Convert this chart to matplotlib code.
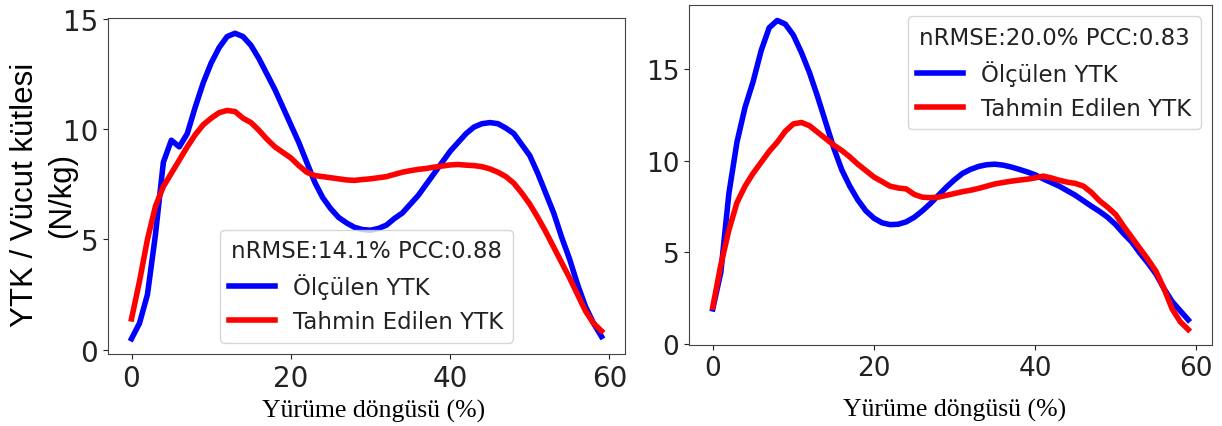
import numpy as np
import matplotlib
matplotlib.use("Agg")
import matplotlib.pyplot as plt

# ---- data ----
x_left = list(range(60))
measured_left = [0.5, 1.2, 2.5, 5.2, 8.5, 9.5, 9.2, 9.8, 11.0, 12.1,
                 13.0, 13.7, 14.2, 14.35, 14.2, 13.8, 13.2, 12.5, 11.8, 11.0,
                 10.2, 9.4, 8.5, 7.6, 6.9, 6.4, 6.0, 5.75, 5.55, 5.45,
                 5.42, 5.5, 5.65, 5.95, 6.2, 6.6, 7.0, 7.5, 8.0, 8.5,
                 9.0, 9.4, 9.8, 10.1, 10.25, 10.3, 10.25, 10.05, 9.8, 9.3,
                 8.8, 8.0, 7.1, 6.2, 5.1, 4.1, 2.95, 1.95, 1.2, 0.6]
predicted_left = [1.4, 3.1, 5.0, 6.5, 7.4, 8.0, 8.6, 9.2, 9.75, 10.2,
                  10.5, 10.75, 10.85, 10.8, 10.5, 10.3, 9.95, 9.55, 9.2, 8.95,
                  8.7, 8.35, 8.05, 7.9, 7.85, 7.8, 7.75, 7.7, 7.68, 7.72,
                  7.75, 7.8, 7.85, 7.95, 8.05, 8.12, 8.18, 8.22, 8.28, 8.33,
                  8.38, 8.4, 8.37, 8.35, 8.3, 8.2, 8.05, 7.85, 7.55, 7.1,
                  6.6, 6.0, 5.35, 4.65, 3.95, 3.25, 2.5, 1.75, 1.2, 0.85]

x_right = list(range(60))
measured_right = [1.9, 3.9, 8.2, 11.0, 12.9, 14.3, 16.0, 17.25, 17.65, 17.45,
                  16.85, 15.9, 14.8, 13.5, 12.1, 10.7, 9.5, 8.6, 7.85, 7.25,
                  6.85, 6.6, 6.5, 6.52, 6.65, 6.9, 7.25, 7.65, 8.1, 8.55,
                  8.95, 9.3, 9.52, 9.68, 9.77, 9.8, 9.75, 9.65, 9.52, 9.38,
                  9.22, 9.0, 8.8, 8.6, 8.35, 8.1, 7.8, 7.5, 7.22, 6.9,
                  6.5, 6.0, 5.55, 4.95, 4.4, 3.8, 3.0, 2.3, 1.8, 1.3]
predicted_right = [2.0, 4.3, 6.2, 7.7, 8.6, 9.3, 9.9, 10.5, 11.0, 11.6,
                   12.0, 12.08, 11.9, 11.55, 11.2, 10.85, 10.55, 10.2, 9.8, 9.45,
                   9.1, 8.85, 8.6, 8.5, 8.45, 8.15, 8.0, 7.97, 8.0, 8.1,
                   8.2, 8.3, 8.38, 8.48, 8.6, 8.72, 8.8, 8.87, 8.93, 8.98,
                   9.05, 9.15, 9.05, 8.92, 8.82, 8.75, 8.6, 8.25, 7.8, 7.45,
                   7.05, 6.4, 5.8, 5.2, 4.6, 3.95, 3.0, 1.9, 1.2, 0.77]

label_measured = "Ölçülen YTK"
label_predicted = "Tahmin Edilen YTK"
title_left = "nRMSE:14.1% PCC:0.88"
title_right = "nRMSE:20.0% PCC:0.83"
xlabel = "Yürüme döngüsü (%)"
ylabel_lines = ["YTK / Vücut kütlesi", "(N/kg)"]
xticks = [0, 20, 40, 60]
yticks_left = [0, 5, 10, 15]
yticks_right = [0, 5, 10, 15]

W, H = 1222, 427
fig = plt.figure(figsize=(W / 100, H / 100), dpi=100)

def px_axes(x0, y0, x1, y1):
    return fig.add_axes([x0 / W, 1 - y1 / H, (x1 - x0) / W, (y1 - y0) / H])

axL = px_axes(108, 19, 625, 355)
axR = px_axes(689, 6, 1212, 346)

for ax, xs, m, p, title, yt, tfs, loc in [
    (axL, x_left, measured_left, predicted_left, title_left, yticks_left, 20, "lower center"),
    (axR, x_right, measured_right, predicted_right, title_right, yticks_right, 19, "upper right"),
]:
    ax.plot(xs, m, color="blue", lw=4, label=label_measured)
    ax.plot(xs, p, color="red", lw=4, label=label_predicted)
    ax.set_xticks(xticks)
    ax.set_yticks(yt)
    ax.tick_params(labelsize=tfs, colors="#222222")
    for s in ax.spines.values():
        s.set_color("#444444")
    leg = ax.legend(title=title, loc=loc, fontsize=16.5, title_fontsize=16.5)
    leg.get_title().set_color("#222222")
    for t in leg.get_texts():
        t.set_color("#222222")

# y label: two rotated lines, placed by their baselines
for text, bx in zip(ylabel_lines, [33, 70.5]):
    fig.text(bx / W, 1 - 195 / H, text, rotation=90, rotation_mode="anchor",
             ha="center", va="baseline", fontsize=22.5, family="Liberation Sans")

fig.text(374 / W, 1 - 418 / H, xlabel, ha="center", va="baseline",
         fontsize=18.5, family="Liberation Serif")
fig.text(954.5 / W, 1 - 416.5 / H, xlabel, ha="center", va="baseline",
         fontsize=18.5, family="Liberation Serif")

fig.savefig("out.png", dpi=100)
